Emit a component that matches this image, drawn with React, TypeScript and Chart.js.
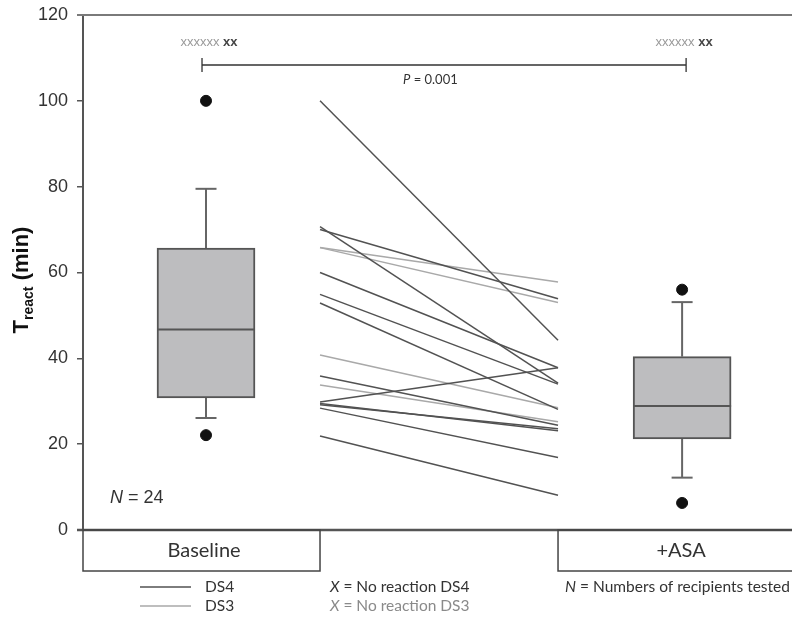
import React, { useEffect, useRef } from 'react';
import { Chart, registerables } from 'chart.js';
Chart.register(...registerables);

const groups = ['Baseline', '+ASA'];
const boxQ1 = [30.8, 21.2];
const boxMedian = [46.7, 28.9];
const boxQ3 = [65.7, 40.4];
const whiskerLow = [26.1, 12.2];
const whiskerHigh = [79.5, 53.1];
const outliersBaseline = [100, 22.1];
const outliersAsa = [56.0, 6.3];
const ds4Before = [100, 70.7, 70, 60, 54.9, 52.9, 35.9, 29.8, 29.5, 29.2, 28.4, 21.9];
const ds4After = [44.2, 34.2, 53.9, 37.8, 34.0, 28.1, 24.4, 37.8, 23.1, 23.6, 16.9, 8.1];
const ds3Before = [65.8, 65.8, 40.8, 33.8];
const ds3After = [57.8, 53.0, 28.5, 25.2];
const yTicks = [0, 20, 40, 60, 80, 100, 120];
const nText = 'N = 24';
const pText = 'P = 0.001';

const BOX_X = [1.735, 8.45];
const PAIR_X = [3.343, 6.7];
const DARK = '#525252';
const LIGHT = '#a9a9a9';

const annotations = {
  id: 'annotations',
  afterDraw(chart: any) {
    const ctx = chart.ctx;
    const xs = chart.scales.x;
    const area = chart.chartArea;
    ctx.save();
    // top frame line
    ctx.strokeStyle = '#7a7a7a';
    ctx.lineWidth = 2;
    ctx.beginPath();
    ctx.moveTo(area.left - 6, area.top);
    ctx.lineTo(area.right, area.top);
    ctx.stroke();
    // bottom axis line
    ctx.strokeStyle = '#555';
    ctx.lineWidth = 2.5;
    ctx.beginPath();
    ctx.moveTo(area.left - 6, area.bottom);
    ctx.lineTo(area.right, area.bottom);
    ctx.stroke();

    // category boxes
    const bx0 = area.left;
    const bx1 = xs.getPixelForValue(PAIR_X[0]);
    const ax0 = xs.getPixelForValue(PAIR_X[1]);
    const ax1 = area.right + 2;
    const by0 = area.bottom;
    const by1 = area.bottom + 41;
    ctx.strokeStyle = '#444';
    ctx.lineWidth = 1.5;
    ctx.strokeRect(bx0, by0, bx1 - bx0, by1 - by0);
    ctx.strokeRect(ax0, by0, ax1 - ax0, by1 - by0);
    ctx.fillStyle = '#333';
    ctx.font = '20px Lato';
    ctx.textAlign = 'center';
    ctx.textBaseline = 'middle';
    ctx.fillText(groups[0], xs.getPixelForValue(BOX_X[0]) - 2, by0 + 21);
    ctx.fillText(groups[1], xs.getPixelForValue(BOX_X[1]) - 1, by0 + 21);

    // legend
    const ly1 = 587;
    const ly2 = 606;
    ctx.lineWidth = 1.5;
    ctx.strokeStyle = DARK;
    ctx.beginPath();
    ctx.moveTo(140, ly1);
    ctx.lineTo(191, ly1);
    ctx.stroke();
    ctx.strokeStyle = LIGHT;
    ctx.beginPath();
    ctx.moveTo(140, ly2);
    ctx.lineTo(191, ly2);
    ctx.stroke();
    ctx.textAlign = 'left';
    ctx.font = '15.5px Lato';
    ctx.fillStyle = '#333';
    ctx.fillText('DS4', 205, ly1);
    ctx.fillText('DS3', 205, ly2);
    const drawItalicLead = (lead: string, rest: string, x: number, y: number, color: string) => {
      ctx.fillStyle = color;
      ctx.font = 'italic 15.5px Lato';
      ctx.fillText(lead, x, y);
      const w = ctx.measureText(lead).width;
      ctx.font = '15.5px Lato';
      ctx.fillText(rest, x + w, y);
    };
    drawItalicLead('X', ' = No reaction DS4', 330, ly1, '#333');
    drawItalicLead('X', ' = No reaction DS3', 330, ly2, '#8a8a8a');
    drawItalicLead('N', ' = Numbers of recipients tested', 565, ly1, '#333');

    // N = 24
    ctx.fillStyle = '#333';
    ctx.font = 'italic 18px "Liberation Sans"';
    ctx.fillText('N', 110, 498);
    let w = ctx.measureText('N').width;
    ctx.font = '18px "Liberation Sans"';
    ctx.fillText(nText.slice(1), 110 + w, 498);

    // top markers
    const drawMarker = (cx: number) => {
      ctx.font = '13px "Liberation Sans"';
      const a = 'xxxxxx ';
      const wa = ctx.measureText(a).width;
      ctx.font = 'bold 13px "Liberation Sans"';
      const b = 'xx';
      const wb = ctx.measureText(b).width;
      const x0 = cx - (wa + wb) / 2;
      ctx.font = '13px "Liberation Sans"';
      ctx.fillStyle = '#9a9a9a';
      ctx.fillText(a, x0, 42);
      ctx.font = 'bold 13px "Liberation Sans"';
      ctx.fillStyle = '#444';
      ctx.fillText(b, x0 + wa, 42);
    };
    const c0 = xs.getPixelForValue(BOX_X[0]);
    const c1 = xs.getPixelForValue(BOX_X[1]);
    drawMarker(c0 + 3);
    drawMarker(c1 + 2);
    // bracket
    ctx.strokeStyle = '#333';
    ctx.lineWidth = 1.3;
    ctx.beginPath();
    ctx.moveTo(c0 - 4, 65);
    ctx.lineTo(c1 + 4, 65);
    ctx.moveTo(c0 - 4, 58);
    ctx.lineTo(c0 - 4, 72);
    ctx.moveTo(c1 + 4, 58);
    ctx.lineTo(c1 + 4, 72);
    ctx.stroke();
    ctx.fillStyle = '#333';
    ctx.font = 'italic 13px Lato';
    ctx.fillText('P', 403, 80);
    w = ctx.measureText('P').width;
    ctx.font = '13px Lato';
    ctx.fillText(pText.slice(1), 403 + w, 80);

    // y title
    ctx.save();
    ctx.translate(28, 280);
    ctx.rotate(-Math.PI / 2);
    ctx.fillStyle = '#111';
    ctx.textBaseline = 'alphabetic';
    ctx.textAlign = 'left';
    ctx.font = 'bold 22px "Liberation Sans"';
    const tW = ctx.measureText('T').width;
    ctx.font = 'bold 14px "Liberation Sans"';
    const sW = ctx.measureText('react').width;
    ctx.font = 'bold 22px "Liberation Sans"';
    const mW = ctx.measureText(' (min)').width;
    const total = tW + sW + mW;
    let x = -total / 2;
    ctx.fillText('T', x, 0);
    x += tW;
    ctx.font = 'bold 14px "Liberation Sans"';
    ctx.fillText('react', x, 5);
    x += sW;
    ctx.font = 'bold 22px "Liberation Sans"';
    ctx.fillText(' (min)', x, 0);
    ctx.restore();

    ctx.restore();
  },
};

export default function App() {
  const ref = useRef<HTMLCanvasElement>(null);
  useEffect(() => {
    document.body.style.margin = '0';
    const datasets: any[] = [];
    ds4Before.forEach((v, i) => {
      datasets.push({
        type: 'line',
        data: [{ x: PAIR_X[0], y: v }, { x: PAIR_X[1], y: ds4After[i] }],
        borderColor: DARK,
        borderWidth: 1.5,
        pointRadius: 0,
        order: 5,
      });
    });
    ds3Before.forEach((v, i) => {
      datasets.push({
        type: 'line',
        data: [{ x: PAIR_X[0], y: v }, { x: PAIR_X[1], y: ds3After[i] }],
        borderColor: LIGHT,
        borderWidth: 1.5,
        pointRadius: 0,
        order: 6,
      });
    });
    BOX_X.forEach((bx, i) => {
      datasets.push({
        type: 'line',
        data: [{ x: bx, y: whiskerLow[i] }, { x: bx, y: boxQ1[i] }],
        borderColor: '#666',
        borderWidth: 2,
        pointRadius: 0,
        order: 4,
      });
      datasets.push({
        type: 'line',
        data: [{ x: bx, y: boxQ3[i] }, { x: bx, y: whiskerHigh[i] }],
        borderColor: '#666',
        borderWidth: 2,
        pointRadius: 0,
        order: 4,
      });
    });
    datasets.push({
      type: 'bar',
      data: BOX_X.map((bx, i) => ({ x: bx, y: [boxQ1[i], boxQ3[i]] })),
      backgroundColor: '#bdbdbf',
      borderColor: '#555',
      borderWidth: 2,
      borderSkipped: false,
      barThickness: 98,
      grouped: false,
      order: 3,
    });
    datasets.push({
      type: 'scatter',
      data: BOX_X.map((bx, i) => ({ x: bx, y: boxMedian[i] })),
      pointStyle: 'line',
      pointRadius: 49,
      borderColor: '#555',
      borderWidth: 2,
      order: 1,
    });
    datasets.push({
      type: 'scatter',
      data: BOX_X.flatMap((bx, i) => [{ x: bx, y: whiskerLow[i] }, { x: bx, y: whiskerHigh[i] }]),
      pointStyle: 'line',
      pointRadius: 10.5,
      borderColor: '#666',
      borderWidth: 2,
      order: 1,
    });
    datasets.push({
      type: 'scatter',
      data: [
        ...outliersBaseline.map((v) => ({ x: BOX_X[0], y: v })),
        ...outliersAsa.map((v) => ({ x: BOX_X[1], y: v })),
      ],
      pointStyle: 'circle',
      pointRadius: 5.5,
      backgroundColor: '#111',
      borderColor: '#111',
      borderWidth: 1,
      order: 0,
    });

    const chart = new Chart(ref.current as HTMLCanvasElement, {
      type: 'scatter',
      data: { datasets },
      options: {
        animation: false,
        responsive: false,
        devicePixelRatio: 1,
        layout: { autoPadding: false, padding: { left: 0, right: 0, top: 15, bottom: 89 } },
        plugins: { legend: { display: false }, tooltip: { enabled: false } },
        scales: {
          x: { type: 'linear', min: 0, max: 10, offset: false, display: false },
          y: {
            type: 'linear',
            min: 0,
            max: 120,
            afterFit: (s: any) => { s.width = 83; s.paddingTop = 0; s.paddingBottom = 0; },
            afterBuildTicks: (s: any) => { s.ticks = yTicks.map((v) => ({ value: v })); },
            grid: { drawOnChartArea: false, tickLength: 6, color: '#555', lineWidth: 1.5 },
            border: { color: '#555', width: 2 },
            ticks: { color: '#333', font: { family: 'Liberation Sans', size: 18 }, padding: 9 },
          },
        },
      },
      plugins: [annotations],
    } as any);
    return () => chart.destroy();
  }, []);
  return (
    <div style={{ position: 'fixed', left: 0, top: 0, width: 792, height: 619, background: '#fff' }}>
      <canvas ref={ref} width={792} height={619} />
    </div>
  );
}
